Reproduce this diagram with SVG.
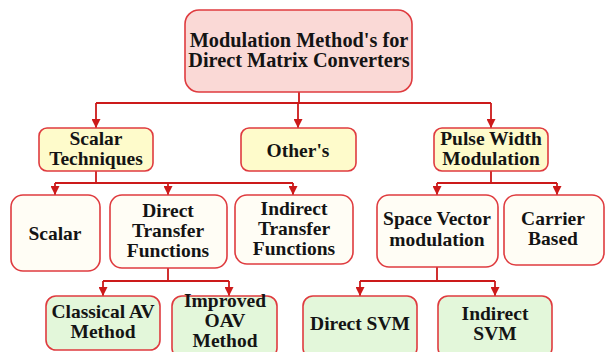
<svg xmlns="http://www.w3.org/2000/svg" width="605" height="352" viewBox="0 0 605 352">
<style>
.box{stroke:#df3b3f;stroke-width:1.6}
.t0{fill:#fad9d6}
.t1{fill:#fefbcb}
.t2{fill:#fffdf5}
.t3{fill:#e3f7da}
.c{fill:none;stroke:#cc1a1a;stroke-width:1.8}
</style>
<defs>
<marker id="ah" viewBox="0 0 10 10" refX="10" refY="5" markerWidth="10" markerHeight="9" markerUnits="userSpaceOnUse" orient="auto">
<path d="M0,0 L10,5 L0,10 z" fill="#cc1a1a"/>
</marker>
</defs>
<g id="connectors">
<path class="c" d="M299 92 V103 M96 103 H491"/>
<path class="c" d="M96 103 V128" marker-end="url(#ah)"/>
<path class="c" d="M298 103 V128" marker-end="url(#ah)"/>
<path class="c" d="M491 103 V128" marker-end="url(#ah)"/>
<path class="c" d="M96 171 V183 M55 183 H293"/>
<path class="c" d="M55 183 V195" marker-end="url(#ah)"/>
<path class="c" d="M168 183 V195" marker-end="url(#ah)"/>
<path class="c" d="M293 183 V195" marker-end="url(#ah)"/>
<path class="c" d="M491 171 V183 M437 183 H557"/>
<path class="c" d="M437 183 V195" marker-end="url(#ah)"/>
<path class="c" d="M557 183 V195" marker-end="url(#ah)"/>
<path class="c" d="M168 268 V281 M103 281 H229"/>
<path class="c" d="M103 281 V296" marker-end="url(#ah)"/>
<path class="c" d="M229 281 V296" marker-end="url(#ah)"/>
<path class="c" d="M437 267 V281 M360 281 H495"/>
<path class="c" d="M360 281 V296" marker-end="url(#ah)"/>
<path class="c" d="M495 281 V296" marker-end="url(#ah)"/>
</g>
<g font-family="'Liberation Serif', serif" font-weight="bold" font-size="19.5" fill="#141414" text-anchor="middle">
<g id="root">
<rect class="box t0" x="185" y="10" width="227" height="82" rx="14"/>
<text x="299" y="47" font-size="20.3">Modulation Method's for</text>
<text x="299" y="67" font-size="20.3">Direct Matrix Converters</text>
</g>
<g id="scalar-techniques">
<rect class="box t1" x="39" y="128" width="114" height="43" rx="8"/>
<text x="96" y="145">Scalar</text>
<text x="96" y="165">Techniques</text>
</g>
<g id="others">
<rect class="box t1" x="241" y="128" width="115" height="43" rx="8"/>
<text x="298" y="157">Other's</text>
</g>
<g id="pwm">
<rect class="box t1" x="434" y="128" width="114" height="43" rx="8"/>
<text x="491" y="145">Pulse Width</text>
<text x="491" y="165">Modulation</text>
</g>
<g id="scalar">
<rect class="box t2" x="11" y="195" width="89" height="76" rx="12"/>
<text x="55" y="240">Scalar</text>
</g>
<g id="dtf">
<rect class="box t2" x="110" y="195" width="117" height="73" rx="12"/>
<text x="168" y="217">Direct</text>
<text x="168" y="237">Transfer</text>
<text x="168" y="257">Functions</text>
</g>
<g id="itf">
<rect class="box t2" x="235" y="195" width="118" height="69" rx="12"/>
<text x="294" y="215">Indirect</text>
<text x="294" y="235">Transfer</text>
<text x="294" y="255">Functions</text>
</g>
<g id="svm">
<rect class="box t2" x="377" y="195" width="121" height="72" rx="12"/>
<text x="437" y="225">Space Vector</text>
<text x="437" y="246">modulation</text>
</g>
<g id="carrier">
<rect class="box t2" x="504" y="195" width="100" height="70" rx="12"/>
<text x="553" y="225">Carrier</text>
<text x="553" y="245">Based</text>
</g>
<g id="classical">
<rect class="box t3" x="46" y="296" width="114" height="54" rx="10"/>
<text x="103" y="318">Classical AV</text>
<text x="103" y="338">Method</text>
</g>
<g id="improved">
<rect class="box t3" x="172" y="296" width="105" height="62" rx="10"/>
<text x="225" y="307">Improved</text>
<text x="225" y="327">OAV</text>
<text x="225" y="347">Method</text>
</g>
<g id="direct-svm">
<rect class="box t3" x="303" y="296" width="114" height="62" rx="10"/>
<text x="360" y="330">Direct SVM</text>
</g>
<g id="indirect-svm">
<rect class="box t3" x="438" y="296" width="114" height="62" rx="10"/>
<text x="495" y="320">Indirect</text>
<text x="495" y="340">SVM</text>
</g>
</g>
</svg>
